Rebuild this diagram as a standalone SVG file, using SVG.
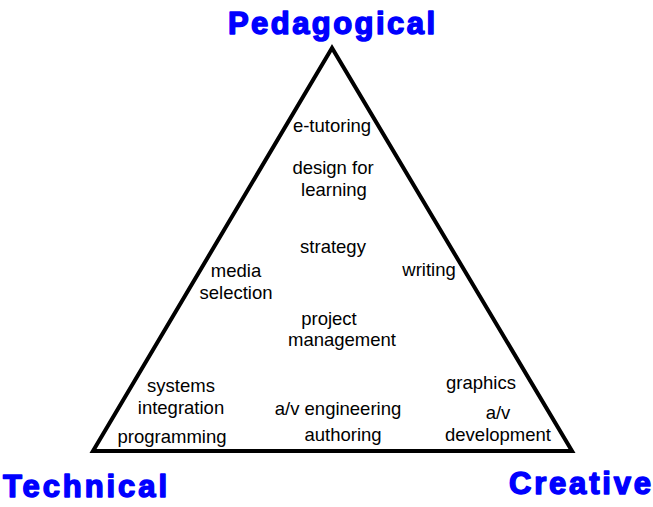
<svg xmlns="http://www.w3.org/2000/svg" width="653" height="507" viewBox="0 0 653 507">
<style>
.t{font-family:"Liberation Sans",Arial,sans-serif;font-size:18.5px;fill:#000;text-anchor:middle}
.h{font-family:"Liberation Sans",Arial,sans-serif;font-size:31px;font-weight:bold;fill:#0000ff;stroke:#0000ff;stroke-width:1.5;stroke-linejoin:round}
</style>
<rect width="653" height="507" fill="#fff"/>
<g id="triangle">
<polygon points="332,48 93,451 572,451" fill="none" stroke="#000" stroke-width="4" stroke-linejoin="miter"/>
</g>
<g id="corner-pedagogical"><text class="h" x="228" y="34" textLength="207" lengthAdjust="spacing">Pedagogical</text></g>
<g id="corner-technical"><text class="h" x="3" y="497" textLength="164" lengthAdjust="spacing">Technical</text></g>
<g id="corner-creative"><text class="h" x="509" y="494" textLength="142" lengthAdjust="spacing">Creative</text></g>
<g id="labels">
<g id="n-etutoring"><text class="t" x="332" y="132">e-tutoring</text></g>
<g id="n-design"><text class="t" x="333" y="174">design for</text><text class="t" x="334" y="196">learning</text></g>
<g id="n-strategy"><text class="t" x="333" y="253">strategy</text></g>
<g id="n-media"><text class="t" x="236" y="277">media</text><text class="t" x="236" y="299">selection</text></g>
<g id="n-writing"><text class="t" x="429" y="276">writing</text></g>
<g id="n-project"><text class="t" x="329" y="325">project</text><text class="t" x="342" y="346">management</text></g>
<g id="n-systems"><text class="t" x="181" y="392">systems</text><text class="t" x="181" y="414">integration</text></g>
<g id="n-programming"><text class="t" x="172" y="443">programming</text></g>
<g id="n-av-eng"><text class="t" x="338" y="415">a/v engineering</text></g>
<g id="n-authoring"><text class="t" x="343" y="441">authoring</text></g>
<g id="n-graphics"><text class="t" x="481" y="389">graphics</text></g>
<g id="n-av-dev"><text class="t" x="498" y="419">a/v</text><text class="t" x="498" y="441">development</text></g>
</g>
<g id="connectors"></g>
</svg>
